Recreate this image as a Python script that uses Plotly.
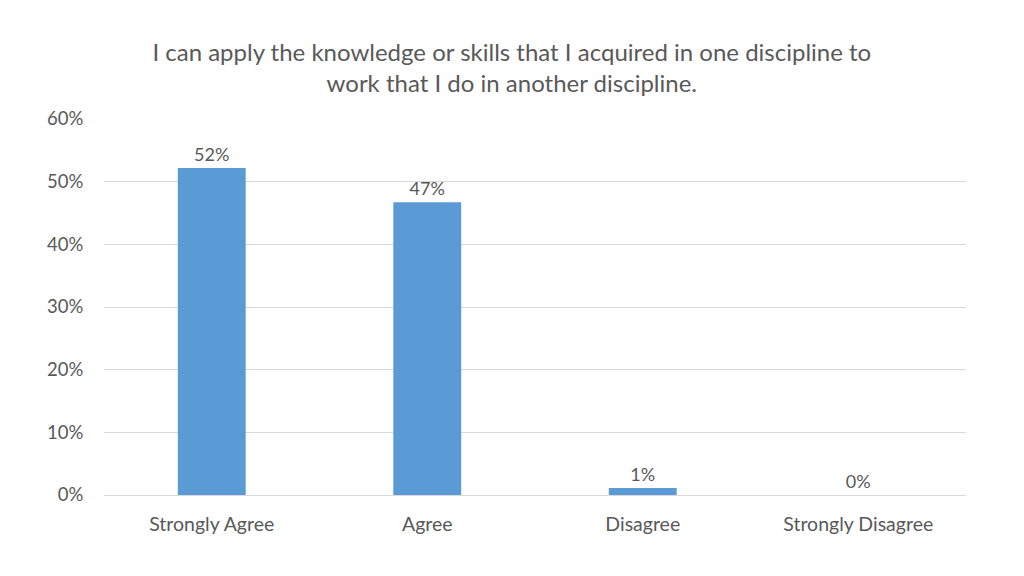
import plotly.graph_objects as go

# survey responses (share of respondents)
categories = ["Strongly Agree", "Agree", "Disagree", "Strongly Disagree"]
shares = [0.522, 0.467, 0.011, 0.0]
y_ticks = [0, 0.1, 0.2, 0.3, 0.4, 0.5, 0.6]

title_text = ("I can apply the knowledge or skills that I acquired in one discipline to"
              "<br>work that I do in another discipline.")

font_name = "Lato"
grey = "#595959"

fig = go.Figure()

fig.add_trace(go.Bar(x=categories, y=shares,
                     marker=dict(color="#5B9BD5", line=dict(width=0)),
                     texttemplate="%{y:.0%}",
                     textposition="outside",
                     cliponaxis=False,
                     textfont=dict(family=font_name, size=18, color=grey),
                     hoverinfo="x+y"))

# page has an 8px body margin, so margins are shifted to compensate
fig.update_layout(
    width=1024, height=576,
    margin=dict(l=96, r=66, t=111, b=89),
    plot_bgcolor="white", paper_bgcolor="white",
    title=dict(text=title_text, x=0.492, xref="container", xanchor="center",
               y=0.908, yref="container", yanchor="middle",
               font=dict(family=font_name, size=24, color=grey)),
    bargap=0.685,
    showlegend=False,
    font=dict(family=font_name, color=grey),
)

fig.update_xaxes(tickfont=dict(size=19.5, color=grey), showline=False,
                 ticks="outside", ticklen=12, tickcolor="rgba(0,0,0,0)")
fig.update_yaxes(range=[0, 0.6], tickvals=y_ticks, tickformat=".0%",
                 tickfont=dict(size=18.5, color=grey),
                 gridcolor="#D9D9D9", gridwidth=1,
                 zeroline=True, zerolinecolor="#D9D9D9", zerolinewidth=1,
                 ticks="outside", ticklen=16, tickcolor="rgba(0,0,0,0)")

fig.write_html("out.html")
